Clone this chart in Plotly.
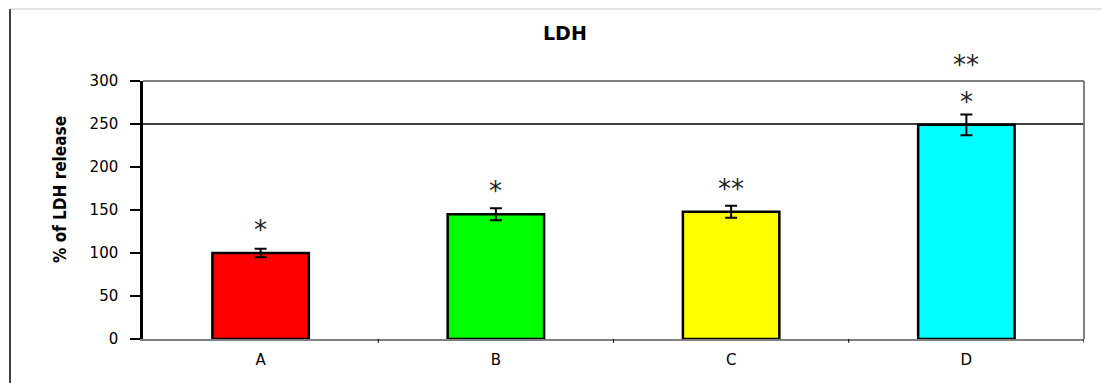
import plotly.graph_objects as go

# LDH release per group (% of control), with standard errors
categories = ["A", "B", "C", "D"]
values = [100, 145, 148, 249]
errors = [5, 7, 7, 12]
bar_colors = ["#ff0000", "#00ff00", "#ffff00", "#00ffff"]

# significance marks: (category index, y value, label)
marks = [
    (0, 127, "*"),
    (1, 172, "*"),
    (2, 174, "**"),
    (3, 276, "*"),
    (3, 319, "**"),
]

tick_vals = [0, 50, 100, 150, 200, 250, 300]
y_max = 300

W, H = 1102, 383
L, R, T, B = 143, 18, 81, 44
pw, ph = W - L - R, H - T - B


def px_x(px):
    return (px - L) / pw


def px_y(py):
    return (H - B - py) / ph


fig = go.Figure()
fig.add_trace(go.Bar(
    x=categories,
    y=values,
    width=0.41,
    marker=dict(color=bar_colors, line=dict(color="black", width=2.5)),
    error_y=dict(type="data", array=errors, color="black", thickness=2, width=6),
    showlegend=False,
))

annotations = [
    dict(text="<b>LDH</b>", x=px_x(565), y=px_y(33), xref="paper", yref="paper",
         showarrow=False, font=dict(family="DejaVu Sans", size=19, color="black"),
         xanchor="center", yanchor="middle"),
    dict(text="<b>% of LDH release</b>", x=px_x(60), y=px_y(190), xref="paper", yref="paper",
         showarrow=False, textangle=-90,
         font=dict(family="DejaVu Sans Condensed, Liberation Sans Narrow", size=17, color="black"),
         xanchor="center", yanchor="middle"),
]
# category index -> paper x (categories sit at 0..3 on a -0.5..3.5 range)
for ci, yv, lab in marks:
    annotations.append(dict(
        text=lab, x=(ci + 0.5) / len(categories), y=yv / y_max, xref="paper", yref="paper",
        showarrow=False,
        font=dict(family="DejaVu Sans", size=26, color="#222222"),
        xanchor="center", yanchor="middle",
    ))

shapes = [
    # reference line at 250
    dict(type="line", xref="paper", yref="y", x0=0, x1=1, y0=250, y1=250,
         line=dict(color="black", width=1.5)),
    # plot frame: top and right edges
    dict(type="line", xref="paper", yref="paper", x0=0, x1=1, y0=1, y1=1,
         line=dict(color="#808080", width=2)),
    dict(type="line", xref="paper", yref="paper", x0=1, x1=1, y0=0, y1=1,
         line=dict(color="#808080", width=2)),
    # outer chart frame
    dict(type="line", xref="paper", yref="paper", x0=px_x(10), x1=px_x(10),
         y0=px_y(9), y1=px_y(383), line=dict(color="black", width=1.5)),
    dict(type="line", xref="paper", yref="paper", x0=px_x(10), x1=px_x(1102),
         y0=px_y(9), y1=px_y(9), line=dict(color="#c8c8c8", width=1)),
]

fig.update_layout(
    width=W, height=H,
    margin=dict(l=L, r=R, t=T, b=B),
    paper_bgcolor="white",
    plot_bgcolor="white",
    annotations=annotations,
    shapes=shapes,
    xaxis=dict(
        showline=True, linecolor="#808080", linewidth=1.5,
        ticks="", showgrid=False, ticklabelstandoff=6,
        tickfont=dict(family="DejaVu Sans", size=15, color="black"),
        range=[-0.5, 3.5],
    ),
    yaxis=dict(
        range=[0, y_max], tickvals=tick_vals,
        showline=True, linecolor="black", linewidth=2.5,
        ticks="outside", ticklen=10, tickwidth=1.5, tickcolor="black",
        showgrid=False, zeroline=False, ticklabelstandoff=9,
        tickfont=dict(family="DejaVu Sans", size=15, color="black"),
    ),
)

# small ticks on the category axis between groups
for b in [0.5, 1.5, 2.5, 3.5]:
    fig.add_shape(type="line", xref="x", yref="paper", x0=b, x1=b, y0=0, y1=-0.015,
                  line=dict(color="black", width=1))

fig.write_html("out.html")
